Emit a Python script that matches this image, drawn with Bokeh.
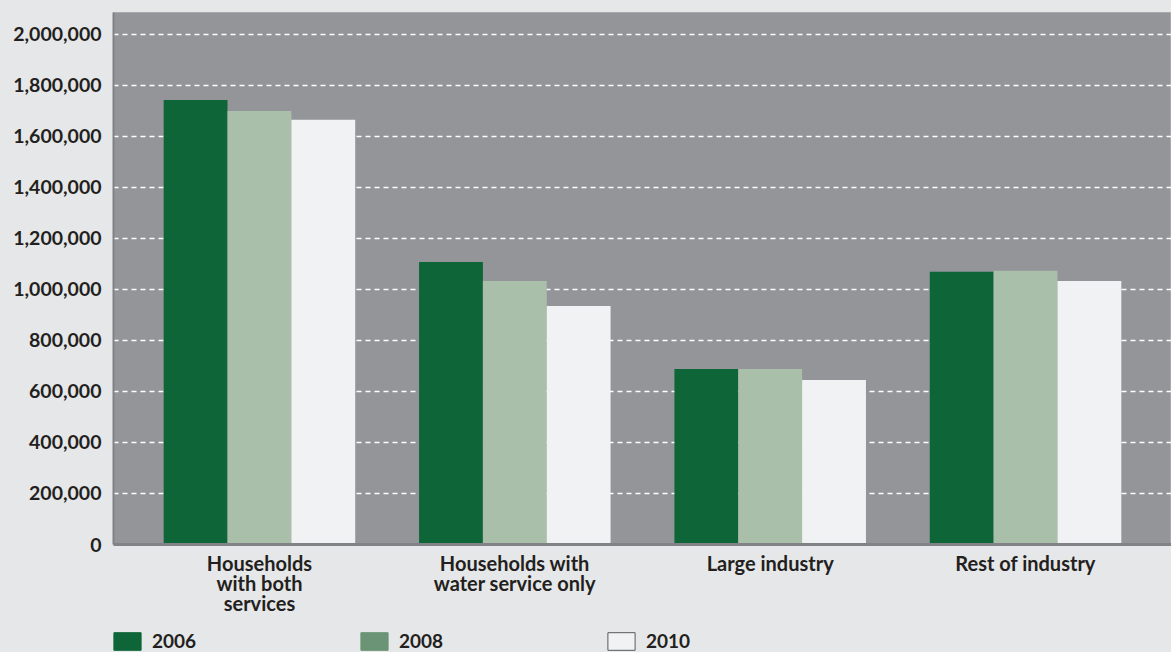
from bokeh.plotting import figure
from bokeh.layouts import column
from bokeh.models import (ColumnDataSource, FactorRange, FixedTicker, NumeralTickFormatter,
                          Legend, LegendItem, Range1d)
from bokeh.transform import dodge
from bokeh.embed import file_html
from bokeh.resources import INLINE

categories = ["Households\nwith both\nservices", "Households with\nwater service only",
              "Large industry", "Rest of industry"]
years = ["2006", "2008", "2010"]
v2006 = [1743000, 1108000, 688000, 1069000]
v2008 = [1700000, 1033000, 688000, 1073000]
v2010 = [1665000, 935000, 645000, 1033000]
y_ticks = [0, 200000, 400000, 600000, 800000, 1000000, 1200000, 1400000,
           1600000, 1800000, 2000000]

bar_colors = ["#0e6638", "#aabfaa", "#f1f2f4"]
legend_colors = ["#0e6638", "#6a9475", "#f1f2f4"]
FONT = "Lato"
TEXT = "#231f20"
PAGE_BG = "#e6e7e8"

source = ColumnDataSource(dict(cat=categories, v2006=v2006, v2008=v2008, v2010=v2010))

p = figure(x_range=FactorRange(factors=categories, range_padding=0.0715,
                               range_padding_units="absolute"),
           y_range=(0, 2086000), width=1171, height=630,
           output_backend="svg", toolbar_location=None,
           min_border_left=113, min_border_right=0, min_border_top=12,
           min_border_bottom=86)

p.border_fill_color = PAGE_BG
p.background_fill_color = "#939598"
p.outline_line_color = "#a7a9ac"
p.outline_line_width = 1

bw = 0.25
offsets = [-bw, 0.0, bw]
for col, off, c in zip(["v2006", "v2008", "v2010"], offsets, bar_colors):
    p.vbar(x=dodge("cat", off, range=p.x_range), top=col, width=bw, source=source,
           fill_color=c, line_color=None)

# grid
p.xgrid.grid_line_color = None
p.ygrid.grid_line_color = "white"
p.ygrid.grid_line_dash = "5 4"
p.ygrid.grid_line_width = 1.5
p.ygrid.ticker = FixedTicker(ticks=y_ticks)

# y axis
p.yaxis.ticker = FixedTicker(ticks=y_ticks)
p.yaxis.formatter = NumeralTickFormatter(format="0,0")
p.yaxis.axis_line_color = "#808285"
p.yaxis.axis_line_width = 2
p.yaxis.major_tick_line_color = None
p.yaxis.minor_tick_line_color = None
p.yaxis.major_label_text_font = FONT
p.yaxis.major_label_text_font_style = "bold"
p.yaxis.major_label_text_font_size = "19.5px"
p.yaxis.major_label_text_color = TEXT
p.yaxis.major_label_standoff = 6

# x axis
p.xaxis.axis_line_color = "#808285"
p.xaxis.axis_line_width = 3
p.xaxis.major_tick_line_color = None
p.xaxis.minor_tick_line_color = None
p.xaxis.major_label_text_font = FONT
p.xaxis.major_label_text_font_style = "bold"
p.xaxis.major_label_text_font_size = "20px"
p.xaxis.major_label_text_color = TEXT
p.xaxis.major_label_text_line_height = 0.85
p.xaxis.major_label_standoff = 0

# legend strip below the chart (legend swatch colours differ from bars in the reference)
lg = figure(width=1171, height=22, x_range=Range1d(0, 1), y_range=Range1d(0, 1),
            output_backend="svg", toolbar_location=None,
            min_border_left=0, min_border_right=0, min_border_top=0, min_border_bottom=0)
lg.axis.visible = False
lg.grid.visible = False
lg.outline_line_color = None
lg.background_fill_color = PAGE_BG
lg.background_fill_alpha = 0
lg.border_fill_color = PAGE_BG
lg.border_fill_alpha = 0

items = []
for yr, c in zip(years, legend_colors):
    r = lg.vbar(x=[0], top=[0], bottom=[0], width=0.0, fill_color=c,
                line_color="#58595b" if yr == "2010" else c, line_width=1)
    items.append(LegendItem(label=yr, renderers=[r]))

legend = Legend(items=items, orientation="horizontal", location=(-3, 0),
                glyph_width=34, glyph_height=22, label_standoff=8, label_width=205,
                spacing=0, padding=0, margin=0, border_line_color=None,
                background_fill_alpha=0,
                label_text_font=FONT, label_text_font_style="bold",
                label_text_font_size="19px", label_text_color=TEXT)
lg.add_layout(legend, "center")

layout = column(p, lg, spacing=0, styles={"background-color": PAGE_BG})
open("out.html", "w").write(file_html(layout, INLINE))
